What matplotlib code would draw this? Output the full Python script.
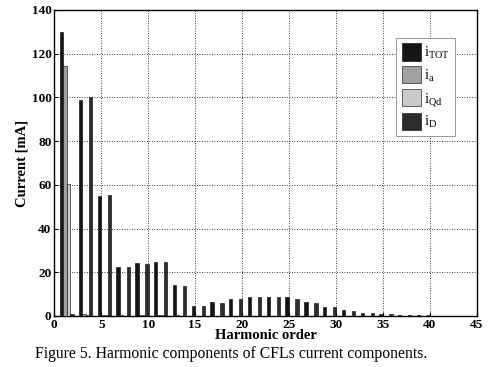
import matplotlib
matplotlib.use("Agg")
import matplotlib.pyplot as plt
import numpy as np

plt.rcParams['font.family'] = ['Liberation Serif', 'DejaVu Serif']
plt.rcParams['mathtext.fontset'] = 'custom'
plt.rcParams['mathtext.rm'] = 'Liberation Serif'
plt.rcParams['mathtext.it'] = 'Liberation Serif'

harmonics = [1, 3, 5, 7, 9, 11, 13, 15, 17, 19, 21, 23, 25, 27, 29, 31, 33, 35, 37, 39]
i_tot = [130, 99, 55, 22.3, 24.4, 24.8, 14.3, 4.4, 6.5, 7.9, 8.8, 8.8, 8.5, 6.2, 4.3, 2.7, 1.3, 0.9, 0.6, 0.4]
i_a   = [114.5, 1.0, 0.6, 0.3, 0.5, 0.5, 0.3, 0.2, 0.2, 0.2, 0.2, 0.2, 0.2, 0.2, 0.1, 0.1, 0.1, 0.1, 0.1, 0.1]
i_qd  = [60.5, 0.6, 0.4, 0.2, 0.3, 0.3, 0.2, 0.1, 0.1, 0.1, 0.1, 0.1, 0.1, 0.1, 0.1, 0.1, 0.1, 0.1, 0.1, 0.1]
i_d   = [1.0, 100, 55.5, 22.3, 24.0, 24.8, 13.9, 4.4, 6.0, 7.8, 8.8, 8.8, 7.8, 6.1, 4.2, 2.4, 1.2, 0.8, 0.5, 0.4]
series_labels = [r'$\mathrm{i}_{\mathrm{TOT}}$', r'$\mathrm{i}_{\mathrm{a}}$',
                 r'$\mathrm{i}_{\mathrm{Qd}}$', r'$\mathrm{i}_{\mathrm{D}}$']
x_ticks = [0, 5, 10, 15, 20, 25, 30, 35, 40, 45]
y_ticks = [0, 20, 40, 60, 80, 100, 120, 140]

colors = ['#151515', '#a0a0a0', '#cacaca', '#2c2c2c']
offsets = [-0.2, 0.157, 0.513, 0.87]
width = 0.357

fig = plt.figure(figsize=(4.91, 3.67), dpi=100)
ax = fig.add_axes([0.1106, 0.139, 0.8603, 0.8338])

h = np.array(harmonics, dtype=float)
for vals, col, off, lab in zip([i_tot, i_a, i_qd, i_d], colors, offsets, series_labels):
    ax.bar(h + off, vals, width=width, color=col, edgecolor='black', linewidth=0.4,
           label=lab, zorder=3)

ax.set_xlim(0, 45)
ax.set_ylim(0, 140)
ax.set_xticks(x_ticks)
ax.set_yticks(y_ticks)
ax.tick_params(direction='in', length=3, width=0.8, labelsize=9.5, pad=2)
for t in ax.get_xticklabels() + ax.get_yticklabels():
    t.set_fontweight('bold')
ax.grid(True, linestyle=(0, (1, 2)), color='black', linewidth=0.6, zorder=0)
for sp in ax.spines.values():
    sp.set_linewidth(1.0)

ax.set_xlabel('Harmonic order', fontsize=10.5, fontweight='bold', labelpad=-1)
ax.set_ylabel('Current [mA]', fontsize=10.5, fontweight='bold', labelpad=2)

leg = ax.legend(loc='upper right', bbox_to_anchor=(0.949, 0.908), borderaxespad=0,
                fontsize=10.5, handlelength=1.35, handleheight=1.45, handletextpad=0.2,
                labelspacing=0.35, borderpad=0.35, fancybox=False, framealpha=1)
leg.get_frame().set_edgecolor('#888888')
leg.get_frame().set_linewidth(0.6)

fig.text(0.47, 0.035, 'Figure 5. Harmonic components of CFLs current components.',
         ha='center', va='center', fontsize=11.3)

fig.savefig('out.png', dpi=100)
